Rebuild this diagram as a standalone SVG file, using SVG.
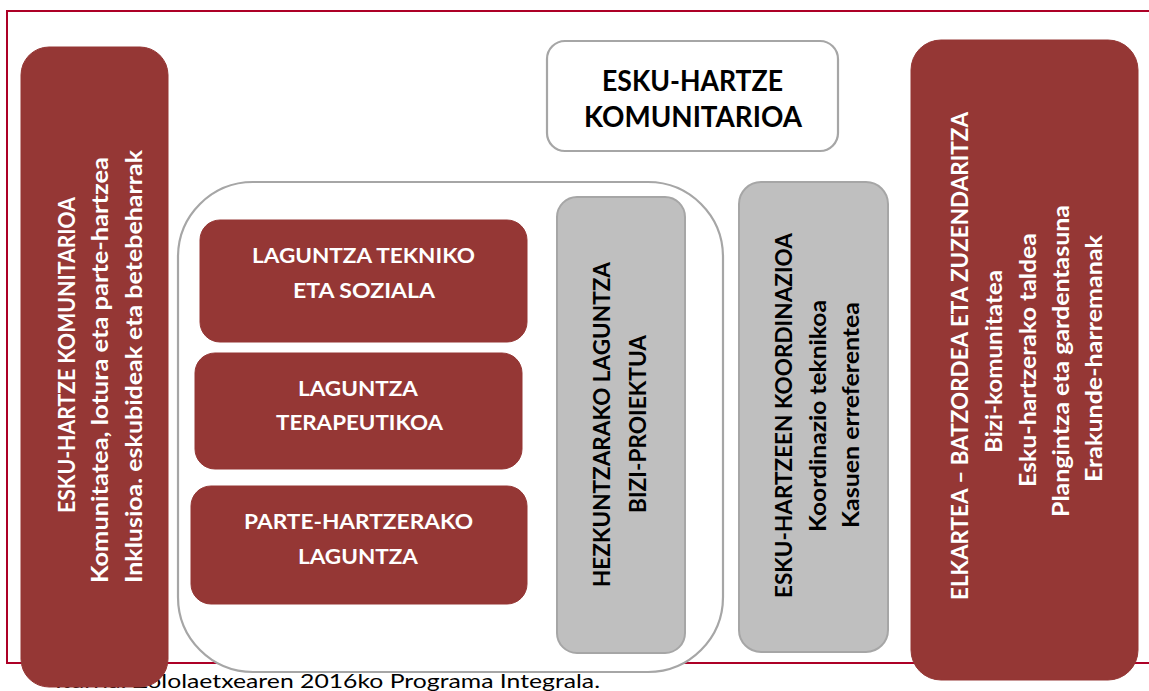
<svg xmlns="http://www.w3.org/2000/svg" width="1149" height="691" viewBox="0 0 1149 691">
<style>
.red{fill:#953735;stroke:#953735;stroke-width:1}
.grey{fill:#bfbfbf;stroke:#a6a6a6;stroke-width:2}
.white{fill:#ffffff;stroke:#a6a6a6;stroke-width:2.2}
text{font-family:Lato,"Open Sans","Liberation Sans",sans-serif;font-weight:bold}
.w{fill:#ffffff}
.k{fill:#000000}
.h{font-size:21.5px;text-anchor:middle}
.t{font-size:29px;text-anchor:middle}
.v{font-size:23.5px}
.cap{font-size:20px;font-weight:normal;fill:#000}
</style>
<rect id="frame" x="7" y="11" width="1160" height="652" fill="none" stroke="#ad0026" stroke-width="2"/>
<text class="cap" x="55" y="688" textLength="545" lengthAdjust="spacingAndGlyphs">Iturria: Zololaetxearen 2016ko Programa Integrala.</text>

<g id="left-box">
<rect class="red" x="21" y="47" width="147" height="640" rx="28"/>
<text class="v w" transform="translate(75,513) rotate(-90)" textLength="316" lengthAdjust="spacingAndGlyphs">ESKU-HARTZE KOMUNITARIOA</text>
<text class="v w" transform="translate(108,583) rotate(-90)" textLength="426" lengthAdjust="spacingAndGlyphs">Komunitatea, lotura eta parte-hartzea</text>
<text class="v w" transform="translate(141.5,583) rotate(-90)" textLength="433" lengthAdjust="spacingAndGlyphs">Inklusioa. eskubideak eta betebeharrak</text>
</g>

<g id="top-box">
<rect class="white" x="547" y="41" width="291" height="110" rx="18"/>
<text class="t k" x="692.5" y="91" textLength="181" lengthAdjust="spacingAndGlyphs">ESKU-HARTZE</text>
<text class="t k" x="693" y="127" textLength="218" lengthAdjust="spacingAndGlyphs">KOMUNITARIOA</text>
</g>

<g id="container">
<rect class="white" x="178" y="182" width="545" height="490" rx="75" stroke-width="2.5"/>
</g>

<g id="box-teknikoa">
<rect class="red" x="200" y="220" width="327" height="122" rx="20"/>
<text class="h w" x="363.5" y="263" textLength="223" lengthAdjust="spacingAndGlyphs">LAGUNTZA TEKNIKO</text>
<text class="h w" x="364" y="298" textLength="142" lengthAdjust="spacingAndGlyphs">ETA SOZIALA</text>
</g>

<g id="box-terapeutikoa">
<rect class="red" x="195" y="353" width="327" height="116" rx="20"/>
<text class="h w" x="358" y="396" textLength="120" lengthAdjust="spacingAndGlyphs">LAGUNTZA</text>
<text class="h w" x="359.5" y="430" textLength="167" lengthAdjust="spacingAndGlyphs">TERAPEUTIKOA</text>
</g>

<g id="box-partehartzerako">
<rect class="red" x="191" y="486" width="336" height="118" rx="20"/>
<text class="h w" x="358.5" y="529" textLength="229" lengthAdjust="spacingAndGlyphs">PARTE-HARTZERAKO</text>
<text class="h w" x="358" y="564" textLength="120" lengthAdjust="spacingAndGlyphs">LAGUNTZA</text>
</g>

<g id="box-biziproiektua">
<rect class="grey" x="557" y="197" width="128" height="456" rx="20"/>
<text class="v k" transform="translate(610,587) rotate(-90)" textLength="325" lengthAdjust="spacingAndGlyphs">HEZKUNTZARAKO LAGUNTZA</text>
<text class="v k" transform="translate(646,513) rotate(-90)" textLength="178" lengthAdjust="spacingAndGlyphs">BIZI-PROIEKTUA</text>
</g>

<g id="box-koordinazioa">
<rect class="grey" x="739" y="182" width="149" height="470" rx="22"/>
<text class="v k" transform="translate(792,598) rotate(-90)" textLength="365" lengthAdjust="spacingAndGlyphs">ESKU-HARTZEEN KOORDINAZIOA</text>
<text class="v k" transform="translate(826,532) rotate(-90)" textLength="232" lengthAdjust="spacingAndGlyphs">Koordinazio teknikoa</text>
<text class="v k" transform="translate(859,528) rotate(-90)" textLength="226" lengthAdjust="spacingAndGlyphs">Kasuen erreferentea</text>
</g>

<g id="right-box">
<rect class="red" x="911" y="40" width="227" height="640" rx="30"/>
<text class="v w" transform="translate(968,600) rotate(-90)" textLength="488" lengthAdjust="spacingAndGlyphs">ELKARTEA – BATZORDEA ETA ZUZENDARITZA</text>
<text class="v w" transform="translate(1001.5,453) rotate(-90)" textLength="183" lengthAdjust="spacingAndGlyphs">Bizi-komunitatea</text>
<text class="v w" transform="translate(1035.5,487) rotate(-90)" textLength="254" lengthAdjust="spacingAndGlyphs">Esku-hartzerako taldea</text>
<text class="v w" transform="translate(1069,517) rotate(-90)" textLength="312" lengthAdjust="spacingAndGlyphs">Plangintza eta gardentasuna</text>
<text class="v w" transform="translate(1102,482) rotate(-90)" textLength="247" lengthAdjust="spacingAndGlyphs">Erakunde-harremanak</text>
</g>

<g id="connectors"></g>
</svg>
